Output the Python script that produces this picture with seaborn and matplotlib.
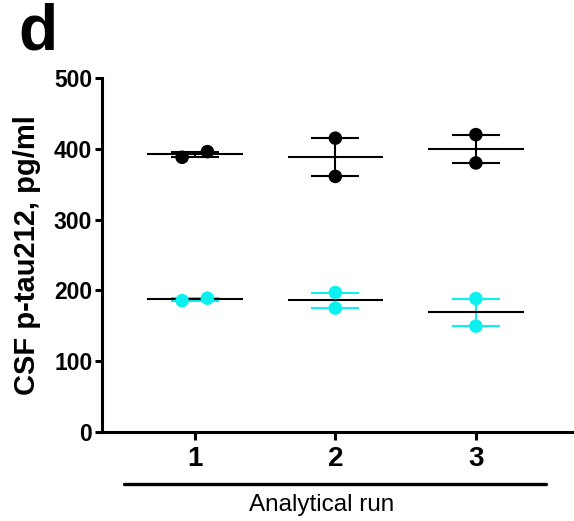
import numpy as np
import pandas as pd
import matplotlib.pyplot as plt
import matplotlib.transforms as mtransforms
import seaborn as sns

# valores (CSF p-tau212, pg/ml)
runs = [1, 2, 3]
grupo_alto = [[388, 396], [415, 361], [420, 380]]
grupo_bajo = [[185.5, 189], [197, 175], [188.5, 149.5]]
colores = {'alto': '#000000', 'bajo': '#0DF0F0'}

sns.set_style('ticks', {'axes.edgecolor': 'black', 'xtick.color': 'black', 'ytick.color': 'black',
                        'text.color': 'black', 'axes.labelcolor': 'black'})
plt.rcParams['font.family'] = ['Liberation Sans', 'DejaVu Sans']

filas = []
for nombre, valores in [('alto', grupo_alto), ('bajo', grupo_bajo)]:
    for run, par in zip(runs, valores):
        for v in par:
            filas.append({'run': run, 'grupo': nombre, 'valor': v})
datos = pd.DataFrame(filas)

# si los dos puntos se pisan, se separan un poco en x (como hace Prism)
def separar(g):
    g = g.sort_values('valor').copy()
    if g['valor'].max() - g['valor'].min() < 18:
        g['x'] = g['run'] + np.array([-0.09, 0.09])
    else:
        g['x'] = g['run'].astype(float)
    return g

datos = datos.groupby(['grupo', 'run'], group_keys=False).apply(separar)
resumen = datos.groupby(['grupo', 'run'])['valor'].agg(['mean', 'sem']).reset_index()

fig = plt.figure(figsize=(5.74, 5.21), dpi=100)
ax = fig.add_axes([0.1777, 0.1708, 0.8203, 0.6795])

for _, r in resumen.iterrows():
    c = colores[r['grupo']]
    ax.errorbar(r['run'], r['mean'], yerr=r['sem'], fmt='none', ecolor=c,
                elinewidth=1.5, capsize=0, zorder=2)
    ax.hlines([r['mean'] - r['sem'], r['mean'] + r['sem']], r['run'] - 0.17, r['run'] + 0.17,
              color=c, lw=1.5, zorder=2)
    ax.hlines(r['mean'], r['run'] - 0.34, r['run'] + 0.34, color='black', lw=1.5, zorder=3)

sns.scatterplot(data=datos, x='x', y='valor', hue='grupo', palette=colores,
                s=95, edgecolor='none', legend=False, ax=ax, zorder=4)

ax.set_xlim(0.34, 3.69)
ax.set_ylim(0, 500)
ax.set_xticks(runs)
ax.set_xticklabels([str(r) for r in runs], fontsize=20, fontweight='bold')
ax.set_yticks([0, 100, 200, 300, 400, 500])
ax.set_yticklabels(['0', '100', '200', '300', '400', '500'], fontsize=16.5, fontweight='bold')
ax.tick_params(axis='y', length=5, width=2.2, pad=2, colors='black')
ax.tick_params(axis='x', length=6, width=2.2, pad=4, colors='black')
for lado in ['left', 'bottom']:
    ax.spines[lado].set_linewidth(2.2)
    ax.spines[lado].set_color('black')
sns.despine(ax=ax)

ax.set_ylabel('CSF p-tau212, pg/ml', fontsize=21, fontweight='bold', labelpad=9, color='black')
ax.set_xlabel('')

# barra bajo los runs y titulo del eje
trans = mtransforms.blended_transform_factory(ax.transData, ax.transAxes)
ax.plot([0.5, 3.5], [-0.147, -0.147], color='black', lw=2.4, transform=trans, clip_on=False)
ax.text(1.9, -0.205, 'Analytical run', transform=trans, ha='center', va='center',
        fontsize=17.5, color='black')

fig.text(0.032, 0.995, 'd', fontsize=46, fontweight='bold', va='top', ha='left', color='black')

fig.savefig('out.png', dpi=100)
